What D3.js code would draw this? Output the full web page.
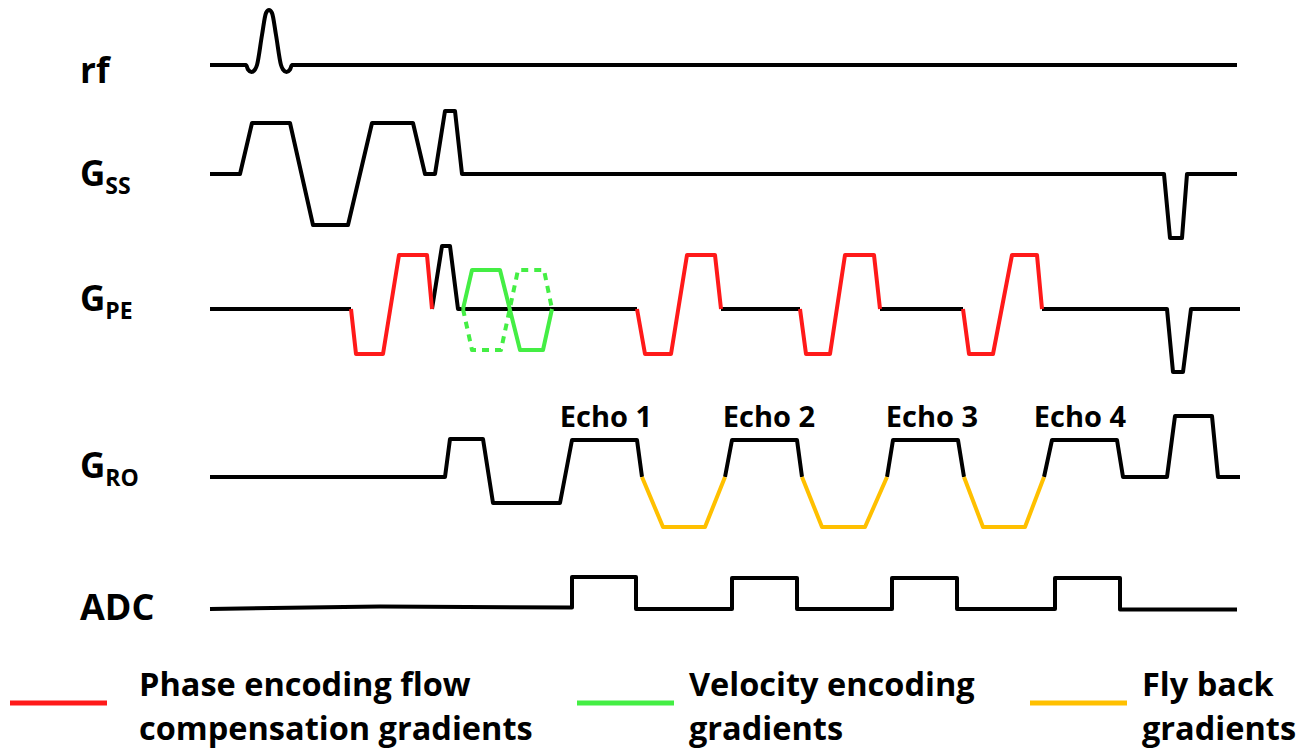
<!DOCTYPE html>
<html>
<head>
<meta charset="utf-8">
<script src="https://cdn.jsdelivr.net/npm/d3@7"></script>
<style>
  body { margin: 0; background: #fff; }
  svg { display: block; }
  text { font-family: "Open Sans", "DejaVu Sans", sans-serif; font-weight: 700; fill: #000; }
</style>
</head>
<body>
<svg id="chart" width="1315" height="755"></svg>
<script>
// Pulse sequence: time in ms, amplitudes in arbitrary gradient units.
const channels = ["rf", "GSS", "GPE", "GRO", "ADC"];

const rfPulse = [[0,0],[3.6,0],[3.8,-0.45],[4.15,-0.7],[4.5,-0.45],[4.7,0],[5.2,3.0],[5.6,5.2],[5.9,5.5],[6.2,5.2],[6.6,3.0],[7.1,0],[7.3,-0.45],[7.65,-0.7],[8.0,-0.45],[8.2,0],[102.7,0]];

const gssWave = [[0,0],[3.0,0],[4.2,5.1],[8.0,5.1],[10.3,-5.1],[13.8,-5.1],[16.2,5.1],[20.3,5.1],[21.5,0],[22.5,0],[23.5,6.3],[24.5,6.3],[25.2,0],[95.4,0],[96.0,-6.4],[97.2,-6.4],[97.7,0],[102.7,0]];

// phase-encode axis: black baseline pieces, flow-compensated blips, velocity-encoding lobes
const gpeBase = [
  [[0,0],[14.1,0]],
  [[22.2,0],[23.2,6.3],[24.0,6.3],[24.8,0],[42.7,0]],
  [[51.1,0],[59.0,0]],
  [[67.0,0],[75.3,0]],
  [[83.2,0],[95.7,0],[96.3,-6.3],[97.3,-6.3],[98.1,0],[103.0,0]]
];
const gpeFlowComp = [
  [[14.1,0],[14.6,-4.5],[17.3,-4.5],[18.9,5.4],[21.7,5.4],[22.2,0]],
  [[42.7,0],[43.5,-4.5],[46.1,-4.5],[47.7,5.4],[50.5,5.4],[51.1,0]],
  [[59.0,0],[59.6,-4.5],[62.0,-4.5],[63.5,5.4],[66.4,5.4],[67.0,0]],
  [[75.3,0],[75.9,-4.5],[78.3,-4.5],[80.2,5.4],[82.7,5.4],[83.2,0]]
];
const gpeVenc = [[25.3,0],[26.2,3.9],[29.0,3.9],[31.0,-4.1],[33.3,-4.1],[34.2,0]];
const gpeVencAlt = [[25.3,0],[26.2,-4.1],[29.1,-4.1],[30.8,3.9],[33.4,3.9],[34.2,0]];

// readout axis: prephaser, echo plateaus, spoiler; fly-back lobes between echoes
const groWave = [
  [[0,0],[23.5,0],[24.0,3.8],[27.3,3.8],[28.3,-2.6],[35.0,-2.6],[36.2,3.7],[42.7,3.7],[43.2,0]],
  [[51.5,0],[52.2,3.7],[58.7,3.7],[59.2,0]],
  [[67.7,0],[68.3,3.7],[74.8,3.7],[75.4,0]],
  [[83.4,0],[84.2,3.7],[90.7,3.7],[91.3,0],[95.7,0],[96.5,6.1],[100.2,6.1],[100.8,0],[103.0,0]]
];
const groFlyback = [
  [[43.2,0],[45.3,-5.0],[49.5,-5.0],[51.5,0]],
  [[59.2,0],[61.2,-5.0],[65.5,-5.0],[67.7,0]],
  [[75.4,0],[77.3,-5.0],[81.5,-5.0],[83.4,0]]
];

const adcWave = [[0,0],[17.0,0.25],[36.2,0.15],[36.2,3.2],[42.6,3.2],[42.6,0],[52.2,0],[52.2,3.1],[58.7,3.1],[58.7,0],[68.2,0],[68.2,3.1],[74.7,3.1],[74.7,0],[84.5,0],[84.5,3.1],[91.0,3.1],[91.0,-0.05],[102.7,-0.05]];

const echoLabels = ["Echo 1", "Echo 2", "Echo 3", "Echo 4"];
const echoCentres = [39.6, 55.9, 72.2, 87.0];

const legendLabels = [
  ["Phase encoding flow", "compensation gradients"],
  ["Velocity encoding", "gradients"],
  ["Fly back", "gradients"]
];
const legendColours = ["#ff1a1a", "#44ee44", "#ffc000"];

// ---- layout ----
const svg = d3.select("#chart");
const x = d3.scaleLinear().domain([0, 103]).range([210, 1240]);
const baselines = { rf: 65, GSS: 174, GPE: 309, GRO: 477, ADC: 609 };
const labelBaselines = { rf: 83, GSS: 186, GPE: 311, GRO: 478, ADC: 620 };
const yFor = ch => d3.scaleLinear().domain([-7, 7]).range([baselines[ch] + 70, baselines[ch] - 70]);

const colours = { base: "#000", flow: legendColours[0], venc: legendColours[1], fly: legendColours[2] };

function trace(ch, pts, colour, opts = {}) {
  const y = yFor(ch);
  const line = d3.line().x(d => x(d[0])).y(d => y(d[1])).curve(opts.curve || d3.curveLinear);
  svg.append("path")
    .attr("d", line(pts))
    .attr("fill", "none")
    .attr("stroke", colour)
    .attr("stroke-width", opts.width || 4)
    .attr("stroke-linejoin", "round")
    .attr("stroke-linecap", opts.cap || "butt")
    .attr("stroke-dasharray", opts.dash || null);
}

// rf
trace("rf", rfPulse, colours.base, { curve: d3.curveMonotoneX });
// slice select
trace("GSS", gssWave, colours.base);
// phase encode
gpeBase.forEach(p => trace("GPE", p, colours.base));
gpeFlowComp.forEach(p => trace("GPE", p, colours.flow));
trace("GPE", gpeVencAlt, colours.venc, { dash: "7,6" });
trace("GPE", gpeVenc, colours.venc);
// readout
groWave.forEach(p => trace("GRO", p, colours.base));
groFlyback.forEach(p => trace("GRO", p, colours.fly));
// acquisition window
trace("ADC", adcWave, colours.base);

// echo labels
const yRO = yFor("GRO");
svg.selectAll("text.echo").data(echoLabels).join("text")
  .attr("class", "echo")
  .attr("x", (d, i) => x(echoCentres[i]))
  .attr("y", yRO(5))
  .attr("text-anchor", "middle")
  .attr("font-size", 29)
  .text(d => d);

// channel labels
const labelDefs = [
  { ch: "rf", main: "rf", sub: "", size: 35 },
  { ch: "GSS", main: "G", sub: "SS", size: 35 },
  { ch: "GPE", main: "G", sub: "PE", size: 35 },
  { ch: "GRO", main: "G", sub: "RO", size: 35 },
  { ch: "ADC", main: "ADC", sub: "", size: 36 }
];
labelDefs.forEach(l => {
  const t = svg.append("text")
    .attr("x", 80)
    .attr("y", labelBaselines[l.ch])
    .attr("font-size", l.size);
  t.append("tspan").text(l.main);
  if (l.sub) t.append("tspan").attr("dy", 8).attr("font-size", 23).text(l.sub);
});

// legend
const legendLineX = [10, 577, 1030];
const legendTextX = [139, 689, 1142];
legendLabels.forEach((lines, i) => {
  svg.append("line")
    .attr("x1", legendLineX[i]).attr("x2", legendLineX[i] + 97)
    .attr("y1", 703).attr("y2", 703)
    .attr("stroke", legendColours[i]).attr("stroke-width", 5);
  const t = svg.append("text").attr("font-size", 32.5);
  lines.forEach((s, j) => {
    t.append("tspan").attr("x", legendTextX[i]).attr("y", 696 + j * 44).text(s);
  });
});
</script>
</body>
</html>
